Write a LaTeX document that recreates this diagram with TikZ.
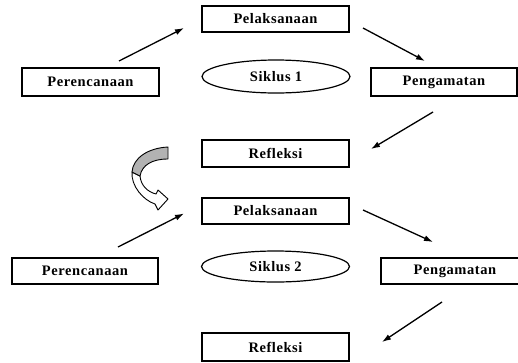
\documentclass[tikz,border=0pt]{standalone}
\usepackage{fontspec}
\setmainfont{Liberation Serif}[LetterSpace=4]
\usetikzlibrary{arrows.meta,shapes.geometric}
\begin{document}
\begin{tikzpicture}[x=1pt,y=-1pt,
  lbl/.style={font=\bfseries\fontsize{14.5}{15}\selectfont},
  box/.style={lbl,draw,line width=1.4pt,minimum width=147pt,minimum height=27pt,inner sep=0pt},
  oval/.style={lbl,draw,ellipse,line width=1.2pt,minimum width=148pt,minimum height=32pt,inner sep=0pt},
  arr/.style={line width=1.3pt,-{Latex[length=9pt,width=6pt]}},
  ribbon/.style={draw,line width=0.9pt,line join=round}]
\clip (0,0) rectangle (518,362);
\useasboundingbox (0,0) rectangle (518,362);
\fill[white] (0,0) rectangle (518,362);
% cycle 1
\node[box,minimum height=26pt] (pel1) at (275.5,19) {Pelaksanaan};
\node[box,minimum width=137pt,minimum height=28pt] (per1) at (90.5,82) {Perencanaan};
\node[oval,minimum height=33pt] (sik1) at (276,76.5) {Siklus 1};
\node[box,minimum width=146pt,minimum height=28pt] (pen1) at (444,82) {Pengamatan};
\node[box] (ref1) at (275.5,153.5) {Refleksi};
% cycle 2
\node[box,minimum height=26pt] (pel2) at (275.5,211) {Pelaksanaan};
\node[box,minimum width=146pt,minimum height=26pt] (per2) at (85,271) {Perencanaan};
\node[oval,minimum height=31pt] (sik2) at (275.5,266.5) {Siklus 2};
\node[box,minimum width=148pt,minimum height=26pt] (pen2) at (455,271) {Pengamatan};
\node[box,minimum height=28pt] (ref2) at (275.5,347) {Refleksi};
% arrow end points
\coordinate (a1s) at (119,61);  \coordinate (a1e) at (184,28);
\coordinate (a2s) at (363,28);  \coordinate (a2e) at (425,61);
\coordinate (a3s) at (433,112); \coordinate (a3e) at (371,149);
\coordinate (a4s) at (118,247); \coordinate (a4e) at (184,213.5);
\coordinate (a5s) at (363,210); \coordinate (a5e) at (433,242);
\coordinate (a6s) at (442,302); \coordinate (a6e) at (382,342);
\draw[arr] (a1s) -- (a1e);
\draw[arr] (a2s) -- (a2e);
\draw[arr] (a3s) -- (a3e);
\draw[arr] (a4s) -- (a4e);
\draw[arr] (a5s) -- (a5e);
\draw[arr] (a6s) -- (a6e);
% curved ribbon arrow
\draw[ribbon,fill=white] (132,172) .. controls (131,186) and (143,200) .. (155,204)
  -- (158,210) -- (168,199) -- (158,190) -- (156,194)
  .. controls (148,192) and (141,186) .. (140,176) -- cycle;
\draw[ribbon,fill=gray!60] (168,147) .. controls (148,148) and (133,158) .. (132,172)
  -- (140,176) .. controls (142,165) and (152,159) .. (168,159) -- cycle;
\end{tikzpicture}
\end{document}
